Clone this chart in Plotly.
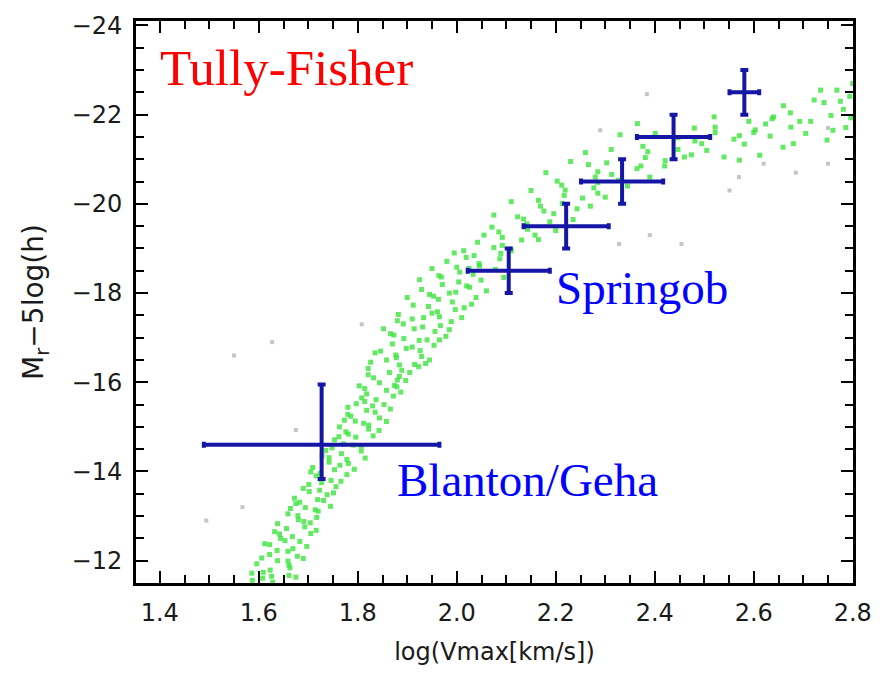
import plotly.graph_objects as go

# Simulated galaxies: (log Vmax, r-band magnitude), main band
sim_points = [
    (1.628, -11.52), (1.587, -11.56), (1.626, -11.65), (1.661, -11.67), (1.609, -11.74),
    (1.623, -11.79), (1.661, -11.90), (1.596, -11.93), (1.659, -11.99), (1.638, -12.00),
    (1.678, -12.10), (1.622, -12.14), (1.659, -12.21), (1.637, -12.23), (1.697, -12.32),
    (1.622, -12.36), (1.683, -12.43), (1.653, -12.45), (1.668, -12.54), (1.642, -12.60),
    (1.705, -12.61), (1.656, -12.72), (1.693, -12.76), (1.638, -12.83), (1.691, -12.88),
    (1.717, -12.97), (1.679, -13.01), (1.659, -13.05), (1.714, -13.14), (1.694, -13.19),
    (1.745, -13.22), (1.683, -13.31), (1.719, -13.37), (1.672, -13.40), (1.738, -13.48),
    (1.702, -13.55), (1.723, -13.58), (1.756, -13.66), (1.701, -13.71), (1.746, -13.80),
    (1.727, -13.84), (1.778, -13.93), (1.724, -13.96), (1.753, -14.04), (1.709, -14.09),
    (1.781, -14.18), (1.742, -14.21), (1.778, -14.27), (1.728, -14.35), (1.767, -14.40),
    (1.807, -14.46), (1.748, -14.53), (1.791, -14.59), (1.771, -14.62), (1.753, -14.71),
    (1.796, -14.77), (1.831, -14.80), (1.776, -14.89), (1.822, -14.95), (1.763, -15.00),
    (1.812, -15.08), (1.795, -15.13), (1.844, -15.20), (1.786, -15.24), (1.835, -15.33),
    (1.818, -15.37), (1.780, -15.44), (1.853, -15.50), (1.814, -15.57), (1.837, -15.61),
    (1.872, -15.69), (1.818, -15.74), (1.858, -15.82), (1.814, -15.86), (1.874, -15.93),
    (1.844, -15.99), (1.897, -16.04), (1.832, -16.10), (1.884, -16.13), (1.864, -16.22),
    (1.889, -16.27), (1.821, -16.31), (1.884, -16.39), (1.937, -16.42), (1.858, -16.50),
    (1.878, -16.55), (1.929, -16.58), (1.835, -16.66), (1.926, -16.71), (1.898, -16.76),
    (1.954, -16.83), (1.870, -16.86), (1.924, -16.94), (1.893, -16.98), (1.978, -17.03),
    (1.866, -17.09), (1.956, -17.14), (1.914, -17.20), (1.931, -17.24), (1.892, -17.31),
    (1.989, -17.36), (1.910, -17.42), (1.965, -17.47), (1.882, -17.52), (1.961, -17.58),
    (1.997, -17.63), (1.943, -17.70), (1.912, -17.73), (1.991, -17.80), (1.963, -17.86),
    (2.039, -17.90), (1.945, -17.97), (1.998, -18.02), (1.929, -18.08), (2.026, -18.13),
    (1.971, -18.19), (2.004, -18.25), (2.049, -18.29), (1.969, -18.36), (2.033, -18.42),
    (2.006, -18.47), (2.078, -18.53), (2.000, -18.58), (2.045, -18.66), (1.980, -18.71),
    (2.087, -18.77), (2.035, -18.84), (2.089, -18.89), (2.014, -18.95), (2.075, -19.02),
    (2.092, -19.07), (2.042, -19.14), (2.131, -19.19), (2.092, -19.25), (2.158, -19.30),
    (2.085, -19.37), (2.143, -19.43), (2.071, -19.48), (2.142, -19.55), (2.188, -19.60),
    (2.135, -19.66), (2.123, -19.71), (2.196, -19.78), (2.176, -19.84), (2.243, -19.89),
    (2.169, -19.95), (2.213, -20.01), (2.165, -20.08), (2.254, -20.13), (2.217, -20.19),
    (2.285, -20.24), (2.219, -20.31), (2.277, -20.36), (2.212, -20.42), (2.285, -20.48),
    (2.327, -20.53), (2.280, -20.60), (2.313, -20.66), (2.285, -20.72), (2.364, -20.79),
    (2.372, -20.85), (2.303, -20.92), (2.421, -20.97), (2.381, -21.04), (2.474, -21.10),
    (2.386, -21.17), (2.447, -21.22), (2.376, -21.29), (2.495, -21.35), (2.481, -21.41),
    (2.447, -21.48), (2.571, -21.53), (2.522, -21.60), (2.603, -21.66), (2.522, -21.72),
    (2.624, -21.79), (2.693, -21.85), (2.637, -21.91), (2.756, -21.98), (2.674, -22.04),
    (2.781, -22.12), (2.742, -22.27), (2.794, -22.41), (2.768, -22.55), (2.722, -22.33),
    (2.786, -21.71), (2.748, -21.43), (2.705, -21.58), (2.659, -21.27), (2.612, -21.09),
    (2.581, -21.34), (2.633, -21.52), (2.796, -21.93), (2.571, -20.98), (2.675, -21.72),
    (2.312, -21.22), (2.266, -20.88), (2.203, -20.51), (2.401, -21.58),
    (1.608, -11.61), (1.663, -11.84), (1.606, -12.06), (1.669, -12.27), (1.644, -12.50),
    (1.716, -12.68), (1.680, -12.92), (1.720, -13.11), (1.675, -13.28), (1.751, -13.52),
    (1.727, -13.75), (1.705, -13.99), (1.764, -14.14), (1.742, -14.31), (1.807, -14.57),
    (1.781, -14.84), (1.822, -15.04), (1.780, -15.28), (1.830, -15.47), (1.808, -15.65),
    (1.879, -15.90), (1.821, -16.17), (1.923, -16.35), (1.877, -16.61), (1.910, -16.79),
    (1.873, -17.06), (1.967, -17.27), (1.933, -17.45), (2.015, -17.67), (1.953, -17.93),
    (2.020, -18.16), (1.964, -18.39), (2.046, -18.61), (2.019, -18.80), (2.108, -18.99),
    (1.586, -11.72), (1.675, -11.63), (1.612, -12.38), (1.690, -12.05), (1.632, -12.65),
    (1.704, -12.85), (1.664, -13.17), (1.731, -13.35), (1.690, -13.62), (1.766, -13.78),
    (1.716, -13.90), (1.793, -14.05), (1.735, -14.47), (1.815, -14.30), (1.762, -14.78),
    (1.843, -14.92), (1.773, -15.15), (1.858, -15.12), (1.797, -15.52), (1.866, -15.40),
    (1.803, -15.92), (1.887, -15.78), (1.826, -16.45), (1.905, -16.22), (1.846, -16.70),
    (1.945, -16.50), (1.852, -17.20), (1.965, -16.95), (1.880, -17.38), (1.985, -17.18),
    (1.900, -17.90), (2.010, -17.45), (1.925, -18.30), (2.030, -17.75), (1.950, -18.55),
    (2.060, -18.05), (1.995, -18.90), (2.095, -18.35), (1.880, -16.05), (1.915, -16.40),
    (1.940, -16.95), (1.950, -17.55), (1.985, -18.00), (2.025, -18.55),
    (2.055, -19.30), (2.110, -18.95), (2.075, -19.75), (2.165, -19.20), (2.110, -20.05),
    (2.200, -19.40), (2.150, -20.30), (2.235, -19.65), (2.180, -20.70), (2.270, -19.95),
    (2.230, -20.95), (2.300, -20.15), (2.260, -21.15), (2.345, -20.40), (2.330, -21.55),
    (2.390, -20.60), (2.365, -21.80), (2.420, -20.85), (2.460, -21.05), (2.505, -21.20),
    (2.540, -21.05), (2.480, -21.70), (2.520, -21.95), (2.560, -21.45), (2.600, -21.60),
    (2.640, -21.95), (2.680, -21.35), (2.715, -21.85), (2.735, -22.55), (2.775, -22.30),
    (2.800, -22.70), (2.760, -21.65), (2.660, -22.20), (2.590, -21.85),
]
sim_logv = [p[0] for p in sim_points]
sim_mag = [p[1] for p in sim_points]

# Outlying simulated galaxies (grey)
out_logv = [1.675, 1.627, 1.808, 1.567, 1.494, 2.384, 2.29, 2.328, 2.39, 2.454,
            2.551, 2.57, 2.75, 2.685, 2.62, 2.75, 1.55]
out_mag = [-14.93, -16.9, -17.3, -13.2, -12.9, -22.46, -21.65, -19.1, -19.3, -19.1,
           -20.3, -20.6, -20.9, -20.7, -20.9, -21.7, -16.6]

# Springob et al. binned Tully-Fisher relation
springob_logv = [2.105, 2.221, 2.334, 2.438, 2.581]
springob_mag = [-18.5, -19.5, -20.5, -21.5, -22.5]
springob_dlogv = [0.083, 0.086, 0.083, 0.074, 0.030]
springob_dmag = [0.5, 0.5, 0.5, 0.5, 0.5]

# Blanton / Geha dwarf point (asymmetric magnitude error)
dwarf_logv = [1.727]
dwarf_mag = [-14.6]
dwarf_dlogv = [0.238]
dwarf_dmag_faint = [0.77]
dwarf_dmag_bright = [1.35]

x_range = [1.352, 2.8005]
y_range = [-11.5, -24.1]

bar_color = "#1616a6"
label_blue = "#0000ff"

fig = go.Figure()

# grey outliers live on the overlay axes that carry the minor ticks
fig.add_trace(go.Scatter(
    x=out_logv, y=out_mag, mode="markers", xaxis="x2", yaxis="y2",
    marker=dict(symbol="square", size=4, color="rgba(150,150,150,0.55)"),
    showlegend=False, hoverinfo="skip",
))
fig.add_trace(go.Scatter(
    x=sim_logv, y=sim_mag, mode="markers",
    marker=dict(symbol="square", size=5, color="rgba(60,228,60,0.8)"),
    showlegend=False,
))
fig.add_trace(go.Scatter(
    x=springob_logv, y=springob_mag, mode="markers",
    marker=dict(size=1, color=bar_color),
    error_x=dict(type="data", array=springob_dlogv, color=bar_color, thickness=4, width=3),
    error_y=dict(type="data", array=springob_dmag, color=bar_color, thickness=4, width=4),
    showlegend=False,
))
fig.add_trace(go.Scatter(
    x=dwarf_logv, y=dwarf_mag, mode="markers",
    marker=dict(size=1, color=bar_color),
    error_x=dict(type="data", array=dwarf_dlogv, color=bar_color, thickness=4, width=3),
    error_y=dict(type="data", array=dwarf_dmag_faint, arrayminus=dwarf_dmag_bright,
                 symmetric=False, color=bar_color, thickness=4, width=4),
    showlegend=False,
))

serif = "Liberation Serif, Times New Roman, serif"
fig.add_annotation(x=1.396, y=-23.05, text="Tully-Fisher", showarrow=False,
                   xanchor="left", yanchor="middle",
                   font=dict(family=serif, size=51, color="#ff0000"))
fig.add_annotation(x=2.196, y=-18.12, text="Springob", showarrow=False,
                   xanchor="left", yanchor="middle",
                   font=dict(family=serif, size=47, color=label_blue))
fig.add_annotation(x=1.876, y=-13.82, text="Blanton/Geha", showarrow=False,
                   xanchor="left", yanchor="middle",
                   font=dict(family=serif, size=47, color=label_blue))

sans = "DejaVu Sans, Arial, sans-serif"
tick_font = dict(family=sans, size=24, color="#1a1a1a")
title_font = dict(family=sans, size=24, color="#1a1a1a")

frame = dict(showline=True, linewidth=3, linecolor="black", mirror="ticks",
             showgrid=False, zeroline=False, tickcolor="black", tickwidth=2)

fig.update_layout(
    width=884, height=674,
    margin=dict(l=136, r=27, t=15, b=88),
    paper_bgcolor="white", plot_bgcolor="white",
    showlegend=False,
    xaxis=dict(
        range=x_range, tickmode="linear", tick0=1.4, dtick=0.2, tickformat=".1f",
        ticks="inside", ticklen=12, tickfont=tick_font, ticklabelstandoff=6,
        title=dict(text="log(Vmax[km/s])", font=title_font, standoff=18),
        **frame,
    ),
    yaxis=dict(
        range=y_range, tickmode="linear", tick0=-24, dtick=2,
        ticks="inside", ticklen=12, tickfont=tick_font, ticklabelstandoff=6,
        title=dict(text="M<sub>r</sub>\u22125log(h)",
                   font=dict(family=sans, size=28, color="#1a1a1a"), standoff=20),
        **frame,
    ),
    # minor tick axes
    xaxis2=dict(
        range=x_range, overlaying="x", anchor="y2", side="bottom",
        tickmode="linear", tick0=1.4, dtick=0.05, ticks="inside", ticklen=8,
        showticklabels=False, **frame,
    ),
    yaxis2=dict(
        range=y_range, overlaying="y", anchor="x2", side="left",
        tickmode="linear", tick0=-24, dtick=0.5, ticks="inside", ticklen=8,
        showticklabels=False, **frame,
    ),
)

fig.write_html("out.html")
